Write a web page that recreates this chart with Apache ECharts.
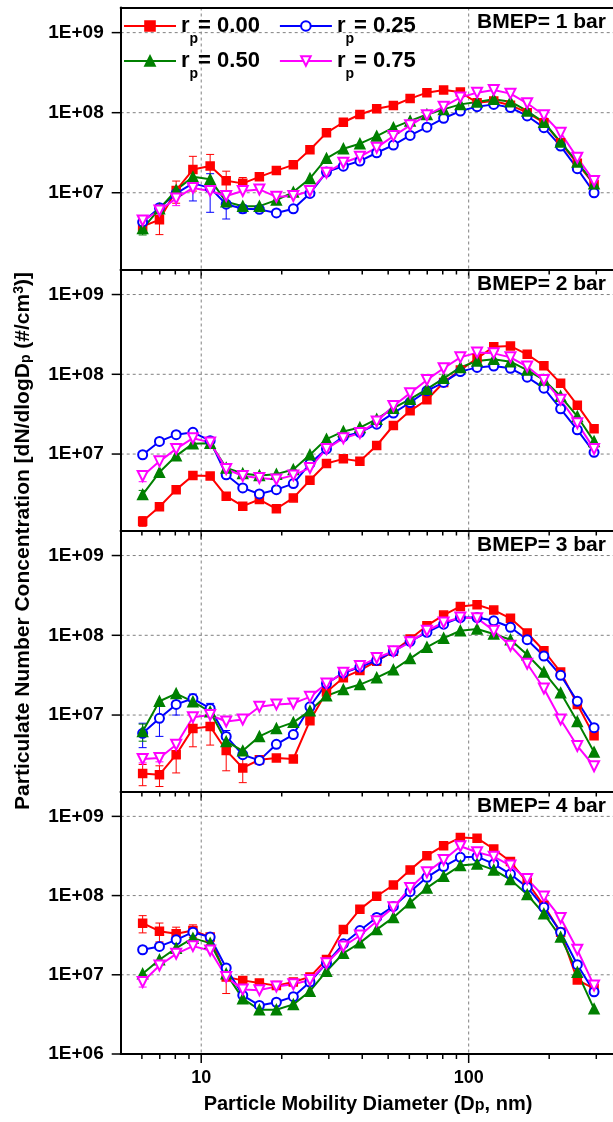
<!DOCTYPE html>
<html><head><meta charset="utf-8">
<script src="https://cdn.jsdelivr.net/npm/echarts@6/dist/echarts.min.js"></script>
<style>html,body{margin:0;padding:0;background:#fff}#c{width:613px;height:1122px}</style>
</head><body><div id="c"></div>
<script>
// ---------- DATA ----------
const diameters = [6.04, 6.98, 8.06, 9.31, 10.8, 12.4, 14.3, 16.5, 19.1, 22.1, 25.5, 29.4, 34.0, 39.2, 45.3, 52.3, 60.4, 69.8, 80.6, 93.1, 107.5, 124.1, 143.3, 165.5, 191.1, 220.7, 254.8, 294.3];
const seriesNames = ['rp = 0.00', 'rp = 0.25', 'rp = 0.50', 'rp = 0.75'];
const panelLabels = ['BMEP= 1 bar', 'BMEP= 2 bar', 'BMEP= 3 bar', 'BMEP= 4 bar'];

const bmep1_r000 = [3.8e6, 4.6e6, 1.07e7, 1.95e7, 2.16e7, 1.41e7, 1.31e7, 1.58e7, 1.89e7, 2.23e7, 3.44e7, 5.6e7, 7.6e7, 9.5e7, 1.12e8, 1.23e8, 1.5e8, 1.78e8, 1.92e8, 1.81e8, 1.33e8, 1.4e8, 1.24e8, 1.0e8, 7.5e7, 4.2e7, 2.33e7, 1.27e7];
const bmep1_r025 = [4.3e6, 6.5e6, 9.8e6, 1.31e7, 1.15e7, 7.2e6, 6.3e6, 6.2e6, 5.6e6, 6.3e6, 9.8e6, 1.81e7, 2.15e7, 2.49e7, 3.16e7, 3.94e7, 5.2e7, 6.6e7, 8.5e7, 1.05e8, 1.19e8, 1.27e8, 1.16e8, 9.1e7, 6.5e7, 3.83e7, 2.0e7, 1.0e7];
const bmep1_r050 = [3.57e6, 6.3e6, 1.08e7, 1.58e7, 1.47e7, 7.7e6, 6.8e6, 6.8e6, 8.1e6, 1.02e7, 1.51e7, 2.69e7, 3.55e7, 4.1e7, 5.1e7, 6.5e7, 7.9e7, 9.5e7, 1.1e8, 1.27e8, 1.36e8, 1.47e8, 1.37e8, 1.05e8, 7.6e7, 4.3e7, 2.42e7, 1.3e7];
const bmep1_r075 = [4.5e6, 6.0e6, 8.5e6, 1.15e7, 1.05e7, 9.1e6, 1.05e7, 1.1e7, 8.9e6, 9.1e6, 1.05e7, 1.78e7, 2.37e7, 2.82e7, 3.66e7, 5.1e7, 6.95e7, 9.3e7, 1.19e8, 1.55e8, 1.78e8, 1.92e8, 1.73e8, 1.31e8, 9.3e7, 5.6e7, 2.74e7, 1.4e7];

const bmep2_r000 = [1.44e6, 2.18e6, 3.58e6, 5.4e6, 5.3e6, 2.96e6, 2.22e6, 2.69e6, 2.06e6, 2.82e6, 4.7e6, 7.6e6, 8.7e6, 8.1e6, 1.28e7, 2.28e7, 3.48e7, 4.8e7, 7.9e7, 1.13e8, 1.58e8, 2.22e8, 2.26e8, 1.78e8, 1.28e8, 7.7e7, 4.1e7, 2.07e7];
const bmep2_r025 = [9.8e6, 1.44e7, 1.75e7, 1.87e7, 1.47e7, 5.5e6, 3.76e6, 3.16e6, 3.58e6, 4.26e6, 7.6e6, 1.16e7, 1.66e7, 1.87e7, 2.37e7, 3.26e7, 4.43e7, 6.2e7, 7.9e7, 1.08e8, 1.22e8, 1.27e8, 1.19e8, 9.2e7, 6.7e7, 3.69e7, 2.01e7, 1.05e7];
const bmep2_r050 = [3.1e6, 5.9e6, 9.5e6, 1.35e7, 1.37e7, 6.7e6, 5.7e6, 5.4e6, 5.6e6, 6.4e6, 9.8e6, 1.54e7, 1.92e7, 2.15e7, 2.74e7, 3.76e7, 4.88e7, 6.5e7, 8.9e7, 1.22e8, 1.47e8, 1.54e8, 1.44e8, 1.13e8, 8.5e7, 5.3e7, 2.96e7, 1.44e7];
const bmep2_r075 = [5.3e6, 8.1e6, 1.16e7, 1.58e7, 1.4e7, 6.5e6, 5.3e6, 5.0e6, 4.8e6, 5.4e6, 6.7e6, 1.16e7, 1.58e7, 1.83e7, 2.56e7, 4.0e7, 5.8e7, 8.5e7, 1.19e8, 1.63e8, 1.87e8, 1.83e8, 1.63e8, 1.25e8, 8.5e7, 4.8e7, 2.44e7, 1.16e7];

const bmep3_r000 = [1.85e6, 1.79e6, 3.18e6, 6.8e6, 7.2e6, 3.6e6, 2.17e6, 2.75e6, 2.89e6, 2.81e6, 8.5e6, 1.95e7, 2.94e7, 3.63e7, 4.74e7, 6.3e7, 9.0e7, 1.32e8, 1.79e8, 2.3e8, 2.41e8, 2.07e8, 1.63e8, 1.07e8, 6.4e7, 3.46e7, 1.36e7, 5.5e6];
const bmep3_r025 = [5.9e6, 9.1e6, 1.36e7, 1.61e7, 1.21e7, 5.4e6, 3.18e6, 2.7e6, 4.3e6, 5.7e6, 1.27e7, 2.48e7, 3.37e7, 4.0e7, 4.84e7, 6.3e7, 8.4e7, 1.09e8, 1.38e8, 1.67e8, 1.67e8, 1.52e8, 1.26e8, 8.8e7, 5.5e7, 3.15e7, 1.49e7, 6.95e6];
const bmep3_r050 = [6.2e6, 1.49e7, 1.86e7, 1.47e7, 1.1e7, 4.66e6, 3.56e6, 5.4e6, 6.8e6, 8.1e6, 1.13e7, 1.74e7, 2.09e7, 2.41e7, 2.94e7, 3.7e7, 5.1e7, 7.1e7, 9.2e7, 1.14e8, 1.2e8, 1.04e8, 8.8e7, 5.7e7, 3.46e7, 1.9e7, 8.3e6, 3.43e6];
const bmep3_r075 = [2.81e6, 2.89e6, 4.24e6, 9.4e6, 1.0e7, 8.3e6, 8.8e6, 1.27e7, 1.36e7, 1.4e7, 1.69e7, 2.48e7, 3.4e7, 4.11e7, 5.2e7, 6.3e7, 8.2e7, 1.14e8, 1.45e8, 1.67e8, 1.64e8, 1.14e8, 7.4e7, 4.4e7, 2.15e7, 8.8e6, 4.1e6, 2.28e6];

const bmep4_r000 = [4.48e7, 3.55e7, 3.29e7, 3.62e7, 2.99e7, 9.4e6, 8.5e6, 7.9e6, 7.3e6, 8.1e6, 9.4e6, 1.56e7, 3.72e7, 6.7e7, 9.8e7, 1.36e8, 2.11e8, 3.19e8, 4.27e8, 5.4e8, 5.3e8, 3.87e8, 2.69e8, 1.47e8, 7.5e7, 3.45e7, 8.6e6, 6.7e6];
const bmep4_r025 = [2.07e7, 2.28e7, 2.76e7, 3.45e7, 2.99e7, 1.22e7, 5.5e6, 4.1e6, 4.5e6, 5.3e6, 8.1e6, 1.4e7, 2.46e7, 3.62e7, 5.3e7, 7.3e7, 1.12e8, 1.7e8, 2.32e8, 3.04e8, 3.1e8, 2.51e8, 1.87e8, 1.27e8, 7.1e7, 3.45e7, 1.34e7, 6.1e6];
const bmep4_r050 = [1.03e7, 1.55e7, 2.17e7, 2.9e7, 2.51e7, 1.03e7, 5.0e6, 3.62e6, 3.62e6, 4.23e6, 6.2e6, 1.11e7, 1.87e7, 2.53e7, 3.72e7, 5.3e7, 8.1e7, 1.25e8, 1.75e8, 2.39e8, 2.51e8, 2.11e8, 1.59e8, 1.03e8, 5.9e7, 2.99e7, 1.08e7, 3.72e6];
const bmep4_r075 = [8.1e6, 1.31e7, 1.84e7, 2.3e7, 2.03e7, 9.4e6, 6.5e6, 6.4e6, 7.1e6, 7.6e6, 8.6e6, 1.4e7, 2.28e7, 3.13e7, 4.74e7, 7.1e7, 1.25e8, 1.97e8, 2.82e8, 4.19e8, 3.52e8, 3.1e8, 2.39e8, 1.62e8, 9.7e7, 5.2e7, 2.07e7, 7.3e6];

// error bars (± absolute, #/cm3), 0 = not visible
const err1_r000 = [0, 1.6e6, 3.3e6, 9e6, 8.5e6, 4.5e6, 2.4e6, 0, 0, 0, 0, 0, 0, 0, 0, 0, 0, 0, 0, 0, 0, 0, 0, 0, 0, 0, 0, 0];
const err1_r025 = [0, 0, 0, 5.2e6, 5.8e6, 2.5e6, 7e5, 0, 0, 0, 0, 0, 0, 0, 0, 0, 0, 0, 0, 0, 0, 0, 0, 0, 0, 0, 0, 0];
const err1_r050 = [6e5, 0, 0, 0, 0, 0, 0, 0, 0, 0, 0, 0, 0, 0, 0, 0, 0, 0, 0, 0, 0, 0, 0, 0, 0, 0, 0, 0];
const err1_r075 = [0, 0, 1.6e6, 0, 0, 0, 0, 0, 0, 0, 0, 0, 0, 0, 0, 0, 0, 0, 0, 0, 0, 0, 0, 0, 0, 0, 0, 0];
const err2_r000 = [2e5, 0, 0, 0, 0, 0, 0, 0, 0, 0, 0, 0, 0, 0, 0, 0, 0, 0, 0, 0, 0, 0, 0, 0, 0, 0, 0, 0];
const err2_r050 = [4e5, 0, 0, 0, 0, 0, 0, 0, 0, 0, 0, 0, 0, 0, 0, 0, 0, 0, 0, 0, 0, 0, 0, 0, 0, 0, 0, 0];
const err2_r075 = [8e5, 0, 0, 0, 0, 0, 0, 0, 0, 0, 0, 0, 0, 0, 0, 0, 0, 0, 0, 0, 0, 0, 0, 0, 0, 0, 0, 0];
const err3_r000 = [5.5e5, 5.2e5, 1.3e6, 2.8e6, 3e6, 1.6e6, 7.5e5, 3e5, 0, 0, 0, 0, 0, 0, 0, 0, 0, 0, 0, 0, 0, 0, 0, 0, 0, 0, 0, 0];
const err3_r025 = [2e6, 3.7e6, 3.6e6, 2.2e6, 1.9e6, 1e6, 0, 0, 0, 0, 0, 0, 0, 0, 0, 0, 0, 0, 0, 0, 0, 0, 0, 0, 0, 0, 0, 0];
const err3_r050 = [1.5e6, 0, 0, 0, 0, 0, 0, 0, 0, 0, 0, 0, 0, 0, 0, 0, 0, 0, 0, 0, 0, 0, 0, 0, 0, 0, 0, 0];
const err3_r075 = [3e5, 3e5, 0, 0, 0, 0, 0, 0, 0, 0, 0, 0, 0, 0, 0, 0, 0, 0, 0, 0, 0, 0, 0, 0, 0, 0, 0, 0];
const err4_r000 = [1.1e7, 9.5e6, 7e6, 6.5e6, 0, 3.6e6, 0, 0, 0, 0, 0, 0, 0, 0, 0, 0, 0, 0, 0, 0, 0, 0, 0, 0, 0, 0, 0, 0];
const err4_r075 = [1.1e6, 0, 0, 0, 0, 0, 0, 0, 0, 0, 0, 0, 0, 0, 0, 0, 0, 0, 0, 0, 0, 0, 0, 0, 0, 0, 0, 0];

const xMajorTicks = [10, 100];
const xMinorTicks = [6, 7, 8, 9, 20, 30, 40, 50, 60, 70, 80, 90, 200, 300];
const yMajorTicks = [1e6, 1e7, 1e8, 1e9];

// ---------- LAYOUT / STYLE ----------
const FONT = '"Liberation Sans", Arial, Helvetica, sans-serif';
const panelSeries = [
  [bmep1_r000, bmep1_r025, bmep1_r050, bmep1_r075],
  [bmep2_r000, bmep2_r025, bmep2_r050, bmep2_r075],
  [bmep3_r000, bmep3_r025, bmep3_r050, bmep3_r075],
  [bmep4_r000, bmep4_r025, bmep4_r050, bmep4_r075]
];
const panelErrors = [
  [err1_r000, err1_r025, err1_r050, err1_r075],
  [err2_r000, null, err2_r050, err2_r075],
  [err3_r000, err3_r025, err3_r050, err3_r075],
  [err4_r000, null, null, err4_r075]
];
const layout = [
  { top: 7.5, height: 262, yMin: 1.1e6 },
  { top: 269.5, height: 261, yMin: 1.1e6 },
  { top: 530.5, height: 261, yMin: 1.1e6 },
  { top: 791.5, height: 262.5, yMin: 1e6 }
];
const Y_MAX = 2.06e9, X_MIN = 5, X_MAX = 400, GRID_LEFT = 120.7, GRID_WIDTH = 509;
const colors = ['#ff0000', '#0000ff', '#008000', '#ff00ff'];
const symbols = ['rect', 'emptyCircle', 'triangle', 'emptyTriangle'];
const symbolRot = [0, 0, 0, 180];
const symbolSizes = [8, 9, 10, 10];

function isPow10(v) { const e = Math.log10(v); return Math.abs(e - Math.round(e)) < 1e-6; }

const grid = [], xAxis = [], yAxis = [], series = [], title = [];
layout.forEach((L, i) => {
  grid.push({ left: GRID_LEFT, top: L.top, width: GRID_WIDTH, height: L.height, containLabel: false, outerBoundsMode: 'none' });
  xAxis.push({
    type: 'log', gridIndex: i, min: X_MIN, max: X_MAX, position: 'bottom', z: 3,
    axisLine: { show: true, onZero: false, lineStyle: { color: '#000', width: 2 } },
    axisTick: { show: false }, splitLine: { show: false }, minorTick: { show: false },
    axisLabel: {
      show: i === 3, margin: 15, color: '#000', fontSize: 18, fontWeight: 'bold', fontFamily: FONT,
      formatter: v => { const r = Math.round(v); return (isPow10(v) && (r === 10 || r === 100)) ? String(r) : ''; }
    }
  });
  xAxis.push({
    type: 'log', gridIndex: i, min: X_MIN, max: X_MAX, position: 'top', z: 3,
    axisLine: { show: true, onZero: false, lineStyle: { color: '#000', width: 2 } },
    axisTick: { show: false }, axisLabel: { show: false }, splitLine: { show: false }
  });
  yAxis.push({
    type: 'log', gridIndex: i, min: L.yMin, max: Y_MAX, z: 3,
    axisLine: { show: true, onZero: false, lineStyle: { color: '#000', width: 2 } },
    axisTick: { show: false }, splitLine: { show: false },
    axisLabel: {
      margin: 17, color: '#000', fontSize: 19, fontWeight: 'bold', fontFamily: FONT,
      formatter: v => isPow10(v) ? '1E+' + String(Math.round(Math.log10(v))).padStart(2, '0') : ''
    }
  });
  title.push({
    text: panelLabels[i], left: 477, top: L.top + 4, padding: 0,
    textStyle: { fontSize: 21, fontWeight: 'bold', color: '#000', fontFamily: FONT }
  });

  // ticks and dashed grid lines, positioned through the axes
  const tickData = [];
  xMajorTicks.forEach(v => { tickData.push([v, 1e8, 0]); tickData.push([v, 1e8, 3]); });
  xMinorTicks.forEach(v => tickData.push([v, 1e8, 1]));
  yMajorTicks.forEach(v => {
    if (v >= L.yMin * 0.999 && v <= Y_MAX) {
      tickData.push([10, v, 2]);
      if (v > L.yMin * 1.001) tickData.push([10, v, 4]);
    }
  });
  series.push({
    type: 'custom', xAxisIndex: 2 * i, yAxisIndex: i, silent: true, clip: false, z: 1,
    encode: { x: 0, y: 1 }, data: tickData,
    renderItem: (params, api) => {
      const cs = params.coordSys;
      const kind = api.value(2);
      const p = api.coord([api.value(0), api.value(1)]);
      const bottom = cs.y + cs.height, right = cs.x + cs.width;
      const tick = { stroke: '#000', lineWidth: 1.5 };
      const dash = { stroke: '#808080', lineWidth: 1, lineDash: [3, 3] };
      if (kind === 0) return { type: 'line', shape: { x1: p[0], y1: bottom, x2: p[0], y2: bottom + 9 }, style: tick };
      if (kind === 1) return { type: 'line', shape: { x1: p[0], y1: bottom, x2: p[0], y2: bottom + 5 }, style: tick };
      if (kind === 2) return { type: 'line', shape: { x1: cs.x - 9, y1: p[1], x2: cs.x, y2: p[1] }, style: tick };
      if (kind === 3) return { type: 'line', shape: { x1: p[0], y1: cs.y, x2: p[0], y2: bottom }, style: dash };
      return { type: 'line', shape: { x1: cs.x, y1: p[1], x2: right, y2: p[1] }, style: dash };
    }
  });

  // error bars
  const errData = [];
  panelErrors[i].forEach((errs, k) => {
    if (!errs) return;
    errs.forEach((e, j) => { if (e > 0) errData.push([diameters[j], panelSeries[i][k][j], e, k]); });
  });
  series.push({
    type: 'custom', xAxisIndex: 2 * i, yAxisIndex: i, silent: true, clip: true, z: 2,
    encode: { x: 0, y: 1 }, data: errData,
    renderItem: (params, api) => {
      const x = api.value(0), v = api.value(1), e = api.value(2), k = api.value(3);
      const c = api.coord([x, v]);
      const hi = api.coord([x, v + e])[1];
      const lo = api.coord([x, Math.max(v - e, 1)])[1];
      const st = { stroke: colors[k], lineWidth: 1 };
      const hw = 4;
      return {
        type: 'group', children: [
          { type: 'line', shape: { x1: c[0], y1: hi, x2: c[0], y2: lo }, style: st },
          { type: 'line', shape: { x1: c[0] - hw, y1: hi, x2: c[0] + hw, y2: hi }, style: st },
          { type: 'line', shape: { x1: c[0] - hw, y1: lo, x2: c[0] + hw, y2: lo }, style: st }
        ]
      };
    }
  });

  panelSeries[i].forEach((vals, k) => {
    series.push({
      type: 'line', name: seriesNames[k], xAxisIndex: 2 * i, yAxisIndex: i, z: 3,
      data: diameters.map((d, j) => [d, vals[j]]),
      symbol: symbols[k], symbolRotate: symbolRot[k], symbolSize: symbolSizes[k],
      showAllSymbol: true,
      lineStyle: { color: colors[k], width: 2 },
      itemStyle: { color: colors[k], borderColor: colors[k], borderWidth: 1.5 },
      emphasis: { disabled: true }
    });
  });
});

const legendText = {
  color: '#000', fontFamily: FONT, fontWeight: 'bold', fontSize: 22,
  rich: {
    r: { fontSize: 22, fontWeight: 'bold', fontFamily: FONT, lineHeight: 40, color: '#000' },
    p: { fontSize: 14, fontWeight: 'bold', fontFamily: FONT, lineHeight: 14, verticalAlign: 'bottom', color: '#000' },
    t: { fontSize: 22, fontWeight: 'bold', fontFamily: FONT, lineHeight: 40, color: '#000' }
  }
};
const legendFmt = name => '{r|r}{p|p}{t|' + name.replace('rp ', '') + '}';
const legendCommon = {
  left: 123, padding: 0, itemWidth: 52, itemHeight: 12, itemGap: 19, orient: 'horizontal',
  selectedMode: false, formatter: legendFmt, textStyle: legendText
};

const chart = echarts.init(document.getElementById('c'), null, { renderer: 'canvas' });
chart.setOption({
  animation: false,
  backgroundColor: '#fff',
  title: title,
  legend: [
    Object.assign({}, legendCommon, { top: 15, data: [seriesNames[0], seriesNames[1]] }),
    Object.assign({}, legendCommon, { top: 50, data: [seriesNames[2], seriesNames[3]] })
  ],
  grid: grid, xAxis: xAxis, yAxis: yAxis, series: series,
  graphic: [
    {
      type: 'text', x: 23, y: 541, rotation: Math.PI / 2, silent: true,
      style: {
        text: 'Particulate Number Concentration [dN/dlogD{s|p} (#/cm{u|3})]',
        fill: '#000', fontSize: 21, fontWeight: 'bold', fontFamily: FONT,
        align: 'center', verticalAlign: 'middle',
        rich: {
          s: { fontSize: 14, fontWeight: 'bold', fontFamily: FONT, lineHeight: 12, verticalAlign: 'bottom' },
          u: { fontSize: 14, fontWeight: 'bold', fontFamily: FONT, lineHeight: 12, verticalAlign: 'top' }
        }
      }
    },
    {
      type: 'text', x: 368, y: 1104, silent: true,
      style: {
        text: 'Particle Mobility Diameter (D{s|p}, nm)',
        fill: '#000', fontSize: 20, fontWeight: 'bold', fontFamily: FONT,
        align: 'center', verticalAlign: 'middle',
        rich: {
          s: { fontSize: 16, fontWeight: 'bold', fontFamily: FONT, lineHeight: 14, verticalAlign: 'bottom' }
        }
      }
    }
  ]
});
</script></body></html>
